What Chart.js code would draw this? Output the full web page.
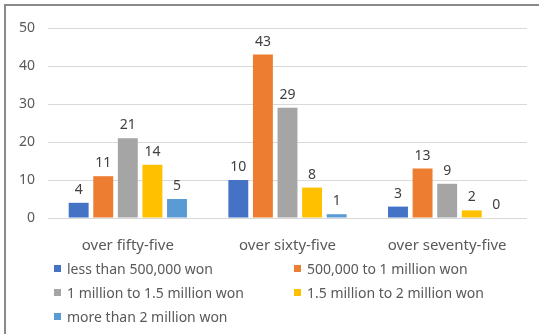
<!DOCTYPE html>
<html>
<head>
<meta charset="utf-8">
<script src="https://cdn.jsdelivr.net/npm/chart.js@4"></script>
<style>
  body { margin: 0; background: #fff; font-family: "Noto Sans", sans-serif; }
  .wrap { position: relative; width: 539px; height: 334px; overflow: hidden; }
  .frame { position: absolute; left: 4px; top: 4px; width: 560px; height: 360px; border: 2px solid #8a8a8a; box-sizing: border-box; }
  canvas { position: absolute; left: 0; top: 0; }
  .legend { position: absolute; left: 54px; top: 258px; width: 480px; display: grid; grid-template-columns: 240px 240px; row-gap: 4px; font-size: 14px; color: #595959; }
  .legend div { display: flex; align-items: center; height: 20px; }
  .legend span.box { width: 7px; height: 7px; margin-right: 6px; }
</style>
</head>
<body>
<div class="wrap">
  <div class="frame"></div>
  <canvas id="grafica" width="539" height="260"></canvas>
  <div class="legend" id="leyenda"></div>
</div>
<script>
const edades = ["over fifty-five", "over sixty-five", "over seventy-five"];
const tramos = [
  "less than 500,000 won",
  "500,000 to 1 million won",
  "1 million to 1.5 million won",
  "1.5 million to 2 million won",
  "more than 2 million won"
];
const menos500mil = [4, 10, 3];
const de500milA1m = [11, 43, 13];
const de1mA15m = [21, 29, 9];
const de15mA2m = [14, 8, 2];
const masDe2m = [5, 1, 0];
const colores = ["#4472C4", "#ED7D31", "#A5A5A5", "#FFC000", "#5B9BD5"];

const series = [menos500mil, de500milA1m, de1mA15m, de15mA2m, masDe2m];

// escribe el valor encima de cada barra
const etiquetasValor = {
  id: "etiquetasValor",
  afterDatasetsDraw(chart) {
    const ctx = chart.ctx;
    ctx.save();
    ctx.font = "14px 'Noto Sans'";
    ctx.fillStyle = "#404040";
    ctx.textAlign = "center";
    ctx.textBaseline = "bottom";
    chart.data.datasets.forEach((ds, i) => {
      chart.getDatasetMeta(i).data.forEach((bar, j) => {
        ctx.fillText(ds.data[j], bar.x, bar.y - 6);
      });
    });
    ctx.restore();
  }
};

const config = {
  type: "bar",
  data: {
    labels: edades,
    datasets: tramos.map((nombre, i) => ({
      label: nombre,
      data: series[i],
      backgroundColor: colores[i],
      categoryPercentage: 0.77,
      barPercentage: 0.81
    }))
  },
  options: {
    responsive: false,
    animation: false,
    layout: { padding: { top: 28, right: 12, left: 0, bottom: 0 } },
    plugins: { legend: { display: false }, tooltip: { enabled: false } },
    scales: {
      x: {
        grid: { display: false },
        border: { display: false },
        ticks: { color: "#595959", font: { family: "Noto Sans", size: 15 }, padding: 11 },
        afterFit(scale) { scale.height = 42; }
      },
      y: {
        min: 0,
        max: 50,
        ticks: { stepSize: 10, color: "#595959", font: { family: "Noto Sans", size: 14 }, padding: 13 },
        grid: { color: "#d9d9d9", drawTicks: false },
        border: { display: false },
        afterFit(scale) { scale.width = 48; }
      }
    }
  },
  plugins: [etiquetasValor]
};

new Chart(document.getElementById("grafica"), config);

// leyenda en dos columnas
const leyenda = document.getElementById("leyenda");
tramos.forEach((nombre, i) => {
  leyenda.innerHTML += `<div><span class="box" style="background:${colores[i]}"></span>${nombre}</div>`;
});
</script>
</body>
</html>
